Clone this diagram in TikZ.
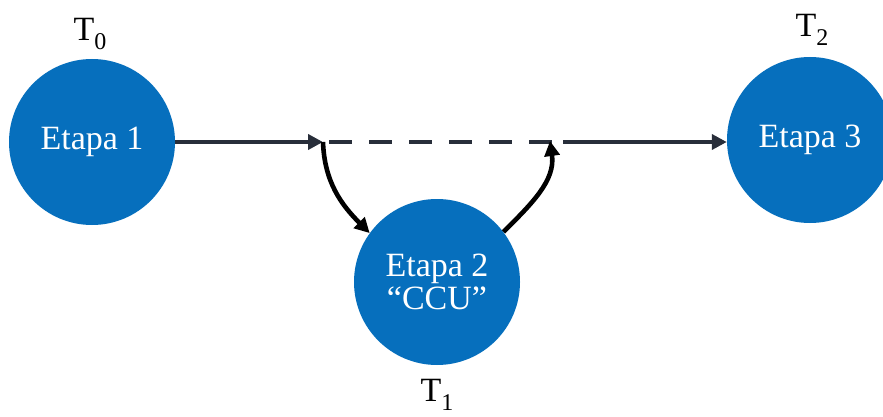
\documentclass[tikz,border=0pt]{standalone}
\usepackage{fontspec}
\setmainfont{Liberation Serif}
\usetikzlibrary{arrows.meta}
\definecolor{stageblue}{RGB}{6,111,189}
\definecolor{linedark}{RGB}{40,46,58}
\newcommand{\tsub}[1]{T\raisebox{-0.28em}{\fontsize{24}{24}\selectfont #1}}
\begin{document}
\begin{tikzpicture}[x=1pt,y=-1pt,
  stage/.style={circle,fill=stageblue,draw=none,minimum size=166pt,inner sep=0pt,
    text=white,align=center,font=\fontsize{34}{33}\selectfont},
  tlabel/.style={inner sep=0pt,font=\fontsize{34}{34}\selectfont,text=black},
  mainline/.style={draw=linedark,line width=4.6pt},
  tip/.style={-{Triangle[length=15pt,width=15pt]}},
  curvearrow/.style={draw=black,line width=4.6pt,-{Triangle[length=15pt,width=15pt]}}]
\useasboundingbox (0,0) rectangle (883,417);
\node[stage] (c1) at (92,142) {Etapa 1};
\node[stage] (c2) at (437,282) {Etapa 2\\``CCU''};
\node[stage] (c3) at (810,140) {Etapa 3};
\node[tlabel] (t0) at (90,34) {\tsub{0}};
\node[tlabel] (t1) at (437,395) {\tsub{1}};
\node[tlabel] (t2) at (812,30) {\tsub{2}};
\coordinate (a) at (323,142);
\coordinate (b) at (550,142);
\coordinate (d) at (563,142);
\draw[mainline,tip] (c1.east |- a) -- (a);
\draw[mainline,dash pattern=on 23pt off 17pt] ([xshift=6pt]a) -- (d);
\draw[mainline,tip] (d) -- (c3.west |- d);
\draw[curvearrow] (a) to[out=-88,in=135] (c2.144);
\draw[curvearrow] (c2.37) to[out=45,in=-82] ([yshift=1pt]b);
\end{tikzpicture}
\end{document}
